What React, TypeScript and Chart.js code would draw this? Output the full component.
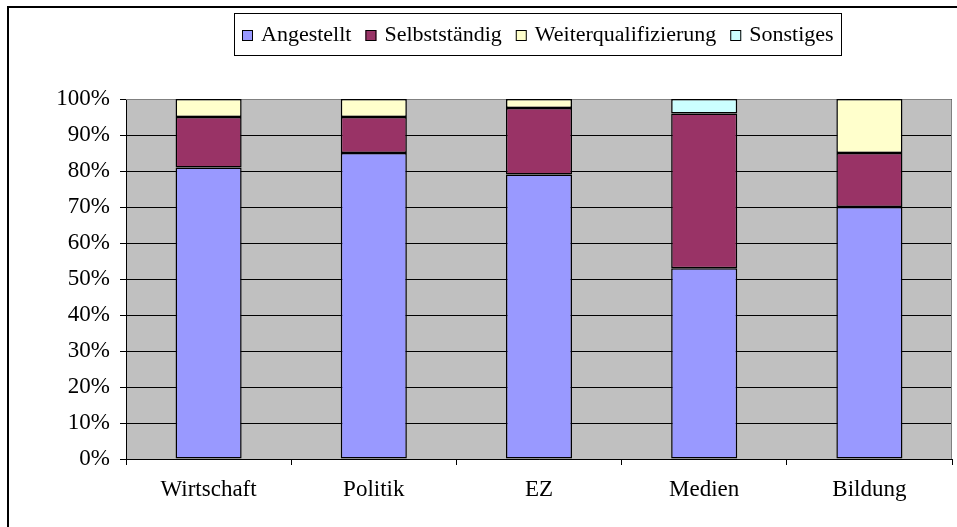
import React, { useEffect, useRef } from "react";
import { Chart, registerables } from "chart.js";

Chart.register(...registerables);

const categories = ["Wirtschaft", "Politik", "EZ", "Medien", "Bildung"];
const angestellt = [81, 85, 79, 53, 70];
const selbststaendig = [14, 10, 18.5, 43, 15];
const weiterqualifizierung = [5, 5, 2.5, 0, 15];
const sonstiges = [0, 0, 0, 4, 0];
const seriesLabels = ["Angestellt", "Selbstständig", "Weiterqualifizierung", "Sonstiges"];
const seriesColors = ["#9999FF", "#993366", "#FFFFCC", "#CCFFFF"];
const yTickValues = [0, 10, 20, 30, 40, 50, 60, 70, 80, 90, 100];

const FONT = '"Liberation Serif", "Times New Roman", serif';

const frameAndBgPlugin = {
  id: "frameAndBg",
  beforeDraw(chart: any) {
    const { ctx, chartArea } = chart;
    ctx.save();
    ctx.fillStyle = "#ffffff";
    ctx.fillRect(0, 0, chart.width, chart.height);
    ctx.fillStyle = "#C0C0C0";
    ctx.fillRect(chartArea.left, chartArea.top, chartArea.right - chartArea.left, chartArea.bottom - chartArea.top);
    ctx.strokeStyle = "#000000";
    ctx.lineWidth = 2;
    ctx.strokeRect(8, 7, chart.width + 20, chart.height + 20);
    ctx.restore();
  },
  beforeDatasetsDraw(chart: any) {
    const { ctx, chartArea } = chart;
    ctx.save();
    ctx.strokeStyle = "#808080";
    ctx.lineWidth = 1;
    ctx.beginPath();
    ctx.moveTo(chartArea.left, chartArea.top + 0.5);
    ctx.lineTo(chartArea.right - 0.5, chartArea.top + 0.5);
    ctx.lineTo(chartArea.right - 0.5, chartArea.bottom);
    ctx.stroke();
    ctx.restore();
  },
};

const customLegendPlugin = {
  id: "customLegend",
  afterDraw(chart: any) {
    const { ctx } = chart;
    const ds = chart.data.datasets;
    ctx.save();
    ctx.font = `22px ${FONT}`;
    ctx.textBaseline = "middle";
    ctx.textAlign = "left";
    const box = 11;
    const gap = 8;
    const spacing = 14;
    const widths = ds.map((d: any) => ctx.measureText(d.label).width);
    const total = widths.reduce((a: number, w: number) => a + box + gap + w, 0) + spacing * (ds.length - 1);
    const padX = 8;
    const cx = 537.5;
    const left = Math.round(cx - total / 2 - padX);
    const right = Math.round(cx + total / 2 + padX);
    const top = 13;
    const bottom = 55;
    ctx.fillStyle = "#ffffff";
    ctx.fillRect(left, top, right - left, bottom - top);
    ctx.strokeStyle = "#000000";
    ctx.lineWidth = 1;
    ctx.strokeRect(left + 0.5, top + 0.5, right - left, bottom - top);
    let x = left + padX;
    const my = (top + bottom) / 2 + 1;
    ds.forEach((d: any, i: number) => {
      ctx.fillStyle = d.backgroundColor;
      ctx.fillRect(x, Math.round(my - box / 2), box, box);
      ctx.strokeStyle = "#000000";
      ctx.strokeRect(x + 0.5, Math.round(my - box / 2) + 0.5, box - 1, box - 1);
      x += box + gap;
      ctx.fillStyle = "#000000";
      ctx.fillText(d.label, x, my);
      x += widths[i] + spacing;
    });
    ctx.restore();
  },
};

export default function App() {
  const ref = useRef<HTMLCanvasElement | null>(null);
  useEffect(() => {
    if (!ref.current) return;
    const series = [angestellt, selbststaendig, weiterqualifizierung, sonstiges];
    const chart = new Chart(ref.current, {
      type: "bar",
      data: {
        labels: categories,
        datasets: series.map((vals, i) => ({
          label: seriesLabels[i],
          data: vals,
          backgroundColor: seriesColors[i],
          borderColor: "#000000",
          borderWidth: 1.5,
          borderSkipped: false,
          barPercentage: 0.4,
          categoryPercentage: 1,
        })),
      },
      options: {
        responsive: false,
        animation: false,
        devicePixelRatio: 1,
        layout: { padding: { top: 99, right: 5, left: 0, bottom: 0 } },
        plugins: {
          legend: { display: false },
          tooltip: { enabled: false },
        },
        scales: {
          x: {
            stacked: true,
            afterFit(scale: any) {
              scale.height = 68;
            },
            grid: {
              offset: true,
              drawOnChartArea: false,
              drawTicks: true,
              tickLength: 6,
              color: "#000000",
              lineWidth: 1,
            },
            border: { display: true, color: "#000000", width: 1 },
            ticks: {
              font: { family: FONT, size: 23 },
              color: "#000000",
              padding: 11,
              maxRotation: 0,
            },
          },
          y: {
            stacked: true,
            min: 0,
            max: 100,
            afterFit(scale: any) {
              scale.width = 126;
            },
            afterBuildTicks(scale: any) {
              scale.ticks = yTickValues.map((v) => ({ value: v }));
            },
            grid: {
              color: "#000000",
              lineWidth: 1,
              drawTicks: true,
              tickLength: 6,
            },
            border: { display: true, color: "#000000", width: 1 },
            ticks: {
              font: { family: FONT, size: 23 },
              color: "#000000",
              padding: 10,
              callback: (v: any) => `${v}%`,
            },
          },
        },
      },
      plugins: [frameAndBgPlugin, customLegendPlugin],
    });
    return () => chart.destroy();
  }, []);
  return (
    <div style={{ position: "fixed", left: 0, top: 0, width: 957, height: 527, background: "#fff" }}>
      <canvas ref={ref} width={957} height={527} style={{ display: "block" }} />
    </div>
  );
}
